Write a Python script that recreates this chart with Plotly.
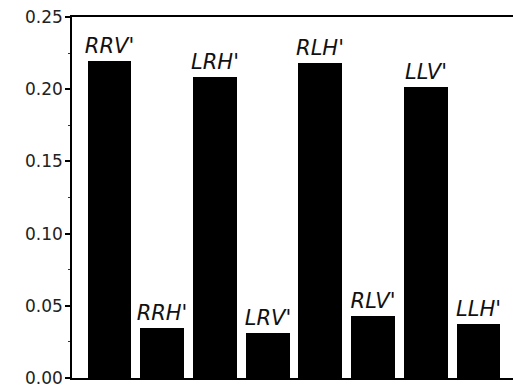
import plotly.graph_objects as go

labels = ["RRV'", "RRH'", "LRH'", "LRV'", "RLH'", "RLV'", "LLV'", "LLH'"]
values = [0.2195, 0.0348, 0.2087, 0.0310, 0.2180, 0.0431, 0.2017, 0.0372]
y_ticks = [0.00, 0.05, 0.10, 0.15, 0.20, 0.25]
y_tick_text = ["0.00", "0.05", "0.10", "0.15", "0.20", "0.25"]

x = list(range(len(labels)))

fig = go.Figure()
fig.add_trace(go.Bar(
    x=x, y=values,
    width=0.83,
    marker=dict(color="black", line=dict(width=0)),
    text=labels,
    textposition="outside",
    constraintext="none",
    cliponaxis=False,
    textfont=dict(family="DejaVu Sans", size=21, color="#111111"),
    texttemplate="<i>%{text}</i>",
))

fig.update_layout(
    width=513, height=389,
    margin=dict(l=72, r=0, t=17, b=11, autoexpand=False),
    paper_bgcolor="white", plot_bgcolor="white",
    showlegend=False,
    bargap=0,
)
fig.update_xaxes(
    range=[-0.711, 7.655],
    automargin=False,
    showgrid=False, zeroline=False,
    showline=True, linecolor="black", linewidth=1.5, mirror=True,
    showticklabels=False, ticks="",
)
fig.update_yaxes(
    range=[0, 0.25],
    automargin=False,
    showgrid=False, zeroline=False,
    showline=True, linecolor="black", linewidth=1.5,
    tickmode="array", tickvals=y_ticks, ticktext=y_tick_text,
    ticks="outside", ticklen=5, tickwidth=1.5, tickcolor="black",
    ticklabeloverflow="allow",
    ticklabelstandoff=-1,
    tickfont=dict(family="DejaVu Sans", size=17, color="#222222"),
    minor=dict(dtick=0.025, tick0=0, ticks="outside", ticklen=2, tickwidth=1.2, tickcolor="#333333"),
)

fig.write_html(
    "out.html",
    config={"displayModeBar": False},
    post_script="document.body.style.margin='0';document.body.style.overflow='hidden';",
)
